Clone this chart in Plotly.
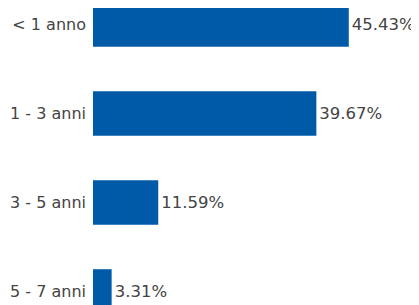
import plotly.graph_objects as go

categories = ["< 1 anno", "1 - 3 anni", "3 - 5 anni", "5 - 7 anni"]
values = [45.43, 39.67, 11.59, 3.31]
labels = [f"{v:.2f}%" for v in values]

fig = go.Figure(go.Bar(
    x=values, y=categories, orientation="h",
    marker=dict(color="#005AA7", line=dict(width=0)),
    width=0.5,
    text=labels, textposition="outside", cliponaxis=False,
    textfont=dict(color="#444444", size=16.5, family="DejaVu Sans"),
))

fig.update_layout(
    width=411, height=297,
    margin=dict(l=85, r=0, t=0, b=0),
    paper_bgcolor="white", plot_bgcolor="white",
    showlegend=False,
    font=dict(family="DejaVu Sans", size=16, color="#444444"),
    xaxis=dict(range=[0, 57.9], visible=False, showgrid=False, zeroline=False),
    yaxis=dict(range=[3.152, -0.185], showgrid=False, zeroline=False, showline=False,
               ticks="", ticklabelstandoff=6, tickfont=dict(size=16, color="#444444")),
)

fig.write_html("out.html")
